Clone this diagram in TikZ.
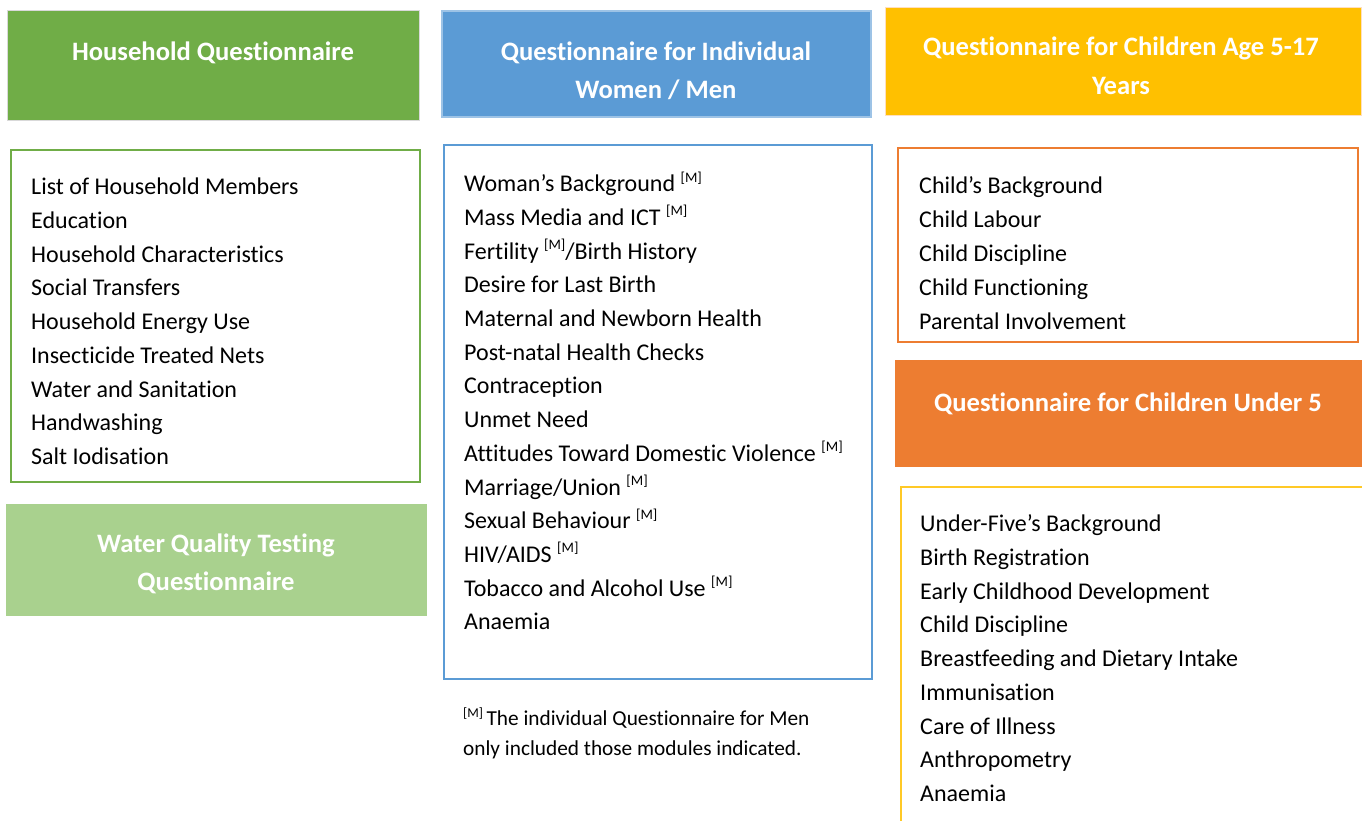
\documentclass[tikz,border=0pt]{standalone}
\usepackage{fontspec}
\setmainfont{Carlito}[Ligatures=NoCommon]
\definecolor{cgreen}{HTML}{70AD47}
\definecolor{clgreen}{HTML}{A9D18E}
\definecolor{cblue}{HTML}{5B9BD5}
\definecolor{cblueb}{HTML}{9DC3E6}
\definecolor{cyellow}{HTML}{FFC000}
\definecolor{corange}{HTML}{ED7D31}
\newcommand{\Msup}{\raisebox{0.4em}{\fontsize{14.5}{14.5}\selectfont[M]}}
\begin{document}
\begin{tikzpicture}[x=1pt,y=-1pt,
  hdrtext/.style={text=white,font=\fontsize{26.6}{38}\selectfont\bfseries,align=center,inner sep=0pt},
  item/.style={anchor=base west,inner sep=0pt,font=\fontsize{24}{28}\selectfont},
  foot/.style={anchor=base west,inner sep=0pt,font=\fontsize{21.3}{24}\selectfont}]
\useasboundingbox (0,0) rectangle (1362,821);
\fill[white] (0,0) rectangle (1362,821);
% headers
\filldraw[fill=cgreen,draw=black!15,line width=0.6pt] (7,10) rectangle (419,120);
\node[hdrtext] (hh) at (213,53) {Household Questionnaire};
\filldraw[fill=cblue,draw=cblueb,line width=1.5pt] (442,11) rectangle (871,117);
\node[hdrtext] (wm1) at (656,53) {Questionnaire for Individual};
\node[hdrtext] (wm2) at (656,90) {Women / Men};
\filldraw[fill=cyellow,draw=orange!25,line width=0.6pt] (885,7) rectangle (1361,115);
\node[hdrtext] (ch1) at (1121,48) {Questionnaire for Children Age 5-17};
\node[hdrtext] (ch2) at (1121,86) {Years};
\filldraw[fill=corange,draw=corange,line width=0.6pt] (895,360) rectangle (1361,466);
\node[hdrtext] (u5) at (1128,404) {Questionnaire for Children Under 5};
\filldraw[fill=clgreen,draw=clgreen,line width=0.6pt] (6,504) rectangle (426,615);
\node[hdrtext] (wq1) at (216,545) {Water Quality Testing};
\node[hdrtext] (wq2) at (216,583) {Questionnaire};
% list boxes
\draw[cgreen,line width=2pt] (11,150) rectangle (420,482);
\draw[cblue,line width=2pt] (444,145) rectangle (872,679);
\draw[corange,line width=2pt] (898,148) rectangle (1358,342);
\draw[cyellow!85,line width=2pt] (901,487) rectangle (1380,840);
% household items
\foreach \t [count=\i] in {List of Household Members,Education,Household Characteristics,Social Transfers,Household Energy Use,Insecticide Treated Nets,Water and Sanitation,Handwashing,Salt Iodisation}
  \node[item] (h\i) at (31,{187+7.7+(\i-1)*33.75}) {\t};
% women items
\foreach \t [count=\i] in {Woman’s Background \Msup,Mass Media and ICT \Msup,Fertility \Msup/Birth History,Desire for Last Birth,Maternal and Newborn Health,Post-natal Health Checks,Contraception,Unmet Need,Attitudes Toward Domestic Violence \Msup,Marriage/Union \Msup,Sexual Behaviour \Msup,HIV/AIDS \Msup,Tobacco and Alcohol Use \Msup,Anaemia}
  \node[item] (w\i) at (464,{184+7.7+(\i-1)*33.7}) {\t};
% children 5-17 items
\foreach \t [count=\i] in {Child’s Background,Child Labour,Child Discipline,Child Functioning,Parental Involvement}
  \node[item] (c\i) at (919,{186+7.7+(\i-1)*34}) {\t};
% under five items
\foreach \t [count=\i] in {Under-Five’s Background,Birth Registration,Early Childhood Development,Child Discipline,Breastfeeding and Dietary Intake,Immunisation,Care of Illness,Anthropometry,Anaemia}
  \node[item] (u\i) at (920,{524+7.7+(\i-1)*33.75}) {\t};
% footnote
\node[foot] (f1) at (463,{719+6.8}) {\raisebox{0.4em}{\fontsize{13.5}{13.5}\selectfont[M]}\,The individual Questionnaire for Men};
\node[foot] (f2) at (463,{749+6.8}) {only included those modules indicated.};
\end{tikzpicture}
\end{document}
